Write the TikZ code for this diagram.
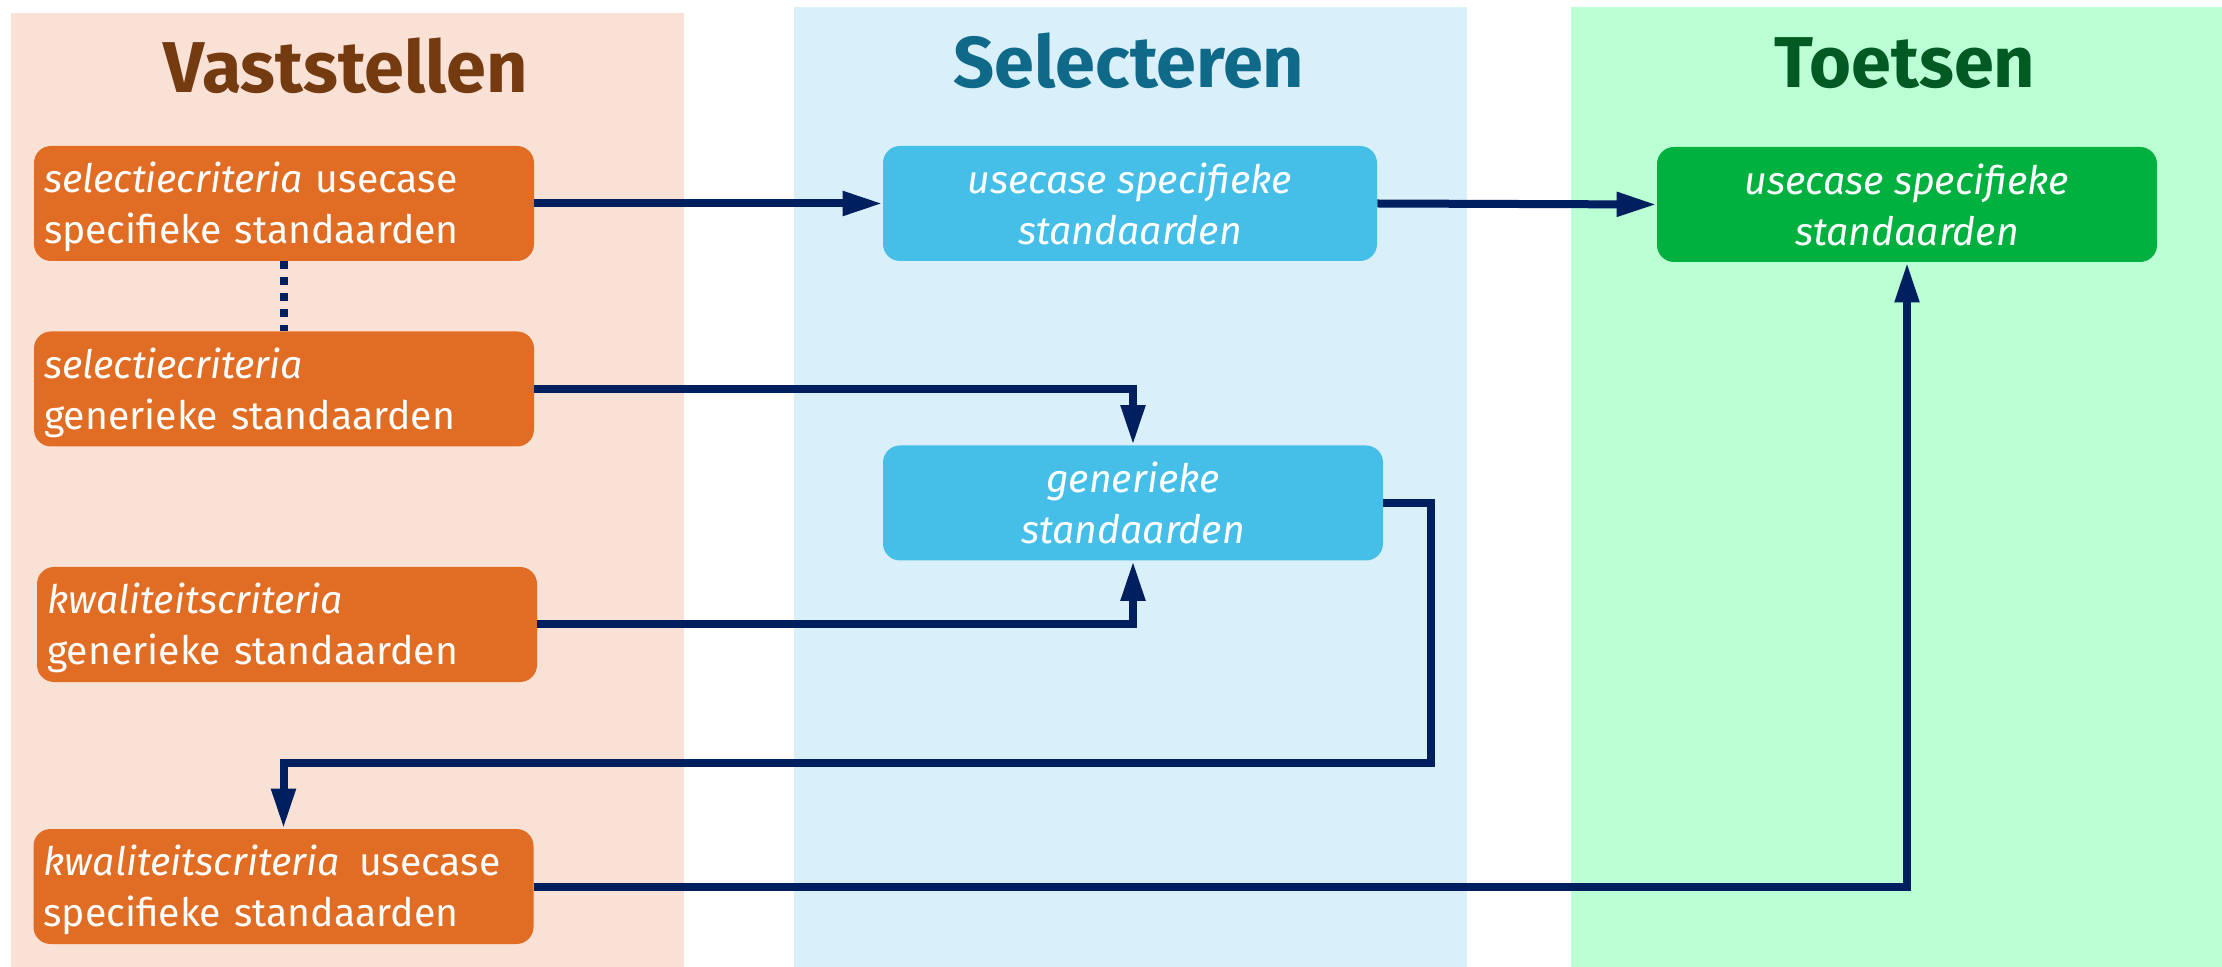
\documentclass[tikz,border=0pt]{standalone}
\usepackage{fontspec}
\setmainfont{Fira Sans}
\usetikzlibrary{arrows.meta}
\definecolor{colV}{HTML}{F9E1D5}
\definecolor{colS}{HTML}{D9F0FA}
\definecolor{colT}{HTML}{BBFFD5}
\definecolor{titV}{HTML}{743A10}
\definecolor{titS}{HTML}{0F6A8A}
\definecolor{titT}{HTML}{005A22}
\definecolor{boxV}{HTML}{E06D23}
\definecolor{boxS}{HTML}{45BEE8}
\definecolor{boxT}{HTML}{00B140}
\definecolor{navy}{HTML}{001F5F}
\tikzset{
  coltitle/.style={anchor=base, inner sep=0pt, font=\fontsize{36}{40}\selectfont\bfseries},
  vbox/.style={fill=boxV, rounded corners=8.5pt, minimum width=250pt, minimum height=57.5pt,
    text width=240pt, align=left, inner xsep=5pt, inner ysep=0pt, text=white,
    font=\fontsize{19.6}{25.5}\selectfont,
    execute at begin node={\rule{0pt}{\dimexpr\fontcharht\font`\l+4pt\relax}}},
  cbox/.style={rounded corners=8.5pt, minimum width=250pt, minimum height=57.5pt,
    align=center, inner sep=0pt, text=white, font=\fontsize{19.6}{25.5}\selectfont\itshape},
  sbox/.style={cbox, fill=boxS},
  tbox/.style={cbox, fill=boxT},
  arr/.style={draw=navy, line width=4pt, -{Triangle[length=20pt,width=11.5pt]}},
  dotl/.style={draw=navy, line width=4pt, dash pattern=on 4pt off 4pt}
}
\begin{document}
\begin{tikzpicture}[x=0.5pt,y=-0.5pt]
\useasboundingbox (0,0) rectangle (2222,967);
% columns
\fill[colV] (11,13) rectangle (684,967);
\fill[colS] (794,7) rectangle (1467,967);
\fill[colT] (1571,7) rectangle (2222,967);
% titles
\node[coltitle, text=titV] (tV) at (346,93) {Vaststellen};
\node[coltitle, text=titS] (tS) at (1129,88) {Selecteren};
\node[coltitle, text=titT] (tT) at (1905,88) {Toetsen};
% boxes
\node[vbox] (v1) at (284,203.5) {\textit{selectiecriteria} usecase\\specifieke standaarden};
\node[vbox] (v2) at (284,389) {\textit{selectiecriteria}\\generieke standaarden};
\node[vbox] (v3) at (287,624.5) {\textit{kwaliteitscriteria}\\generieke standaarden};
\node[vbox] (v4) at (283.5,886.5) {\textit{kwaliteitscriteria}\enspace usecase\\specifieke standaarden};
\node[sbox, minimum width=247pt] (s1) at (1130,203.5) {usecase specifieke\\standaarden};
\node[sbox] (s2) at (1133,503) {generieke\\standaarden};
\node[tbox] (t1) at (1907,204.5) {usecase specifieke\\standaarden};
% connectors
\coordinate (k1) at (1431,763);
\draw[dotl] (v1.south) -- (v2.north);
\draw[arr] (v1.east) -- (s1.west);
\draw[arr] (s1.east) -- (t1.west);
\draw[arr] (v2.east) -| (s2.north);
\draw[arr] (v3.east) -| (s2.south);
\draw[arr] (s2.east) -| (k1) -| (v4.north);
\draw[arr] (v4.east) -| (t1.south);
\end{tikzpicture}
\end{document}
